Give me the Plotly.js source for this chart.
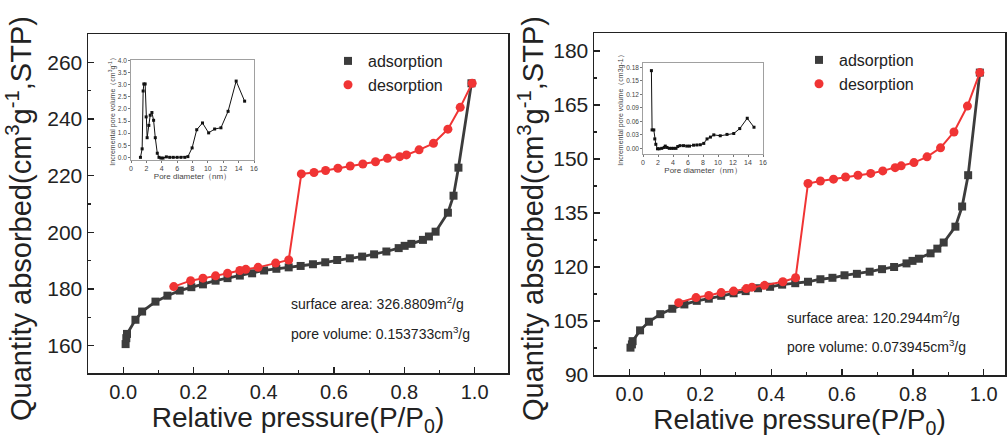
<!DOCTYPE html>
<html>
<head>
<meta charset="utf-8">
<script src="https://cdn.plot.ly/plotly-3.0.1.min.js"></script>
<style>html,body{margin:0;padding:0;background:#fff;}#chart{width:1008px;height:443px;}</style>
</head>
<body>
<div id="chart"></div>
<script>
// ---------- Left sample: isotherm ----------
const adsP1 = [0.007,0.009,0.011,0.035,0.054,0.092,0.126,0.161,0.194,0.227,0.263,0.297,0.332,0.367,0.401,0.436,0.471,0.505,0.540,0.575,0.609,0.645,0.680,0.714,0.749,0.784,0.801,0.820,0.853,0.870,0.889,0.924,0.940,0.954,0.991];
const adsQ1 = [160.5,162.6,164.1,169.1,172.0,175.5,177.6,179.4,180.6,181.6,182.9,183.8,184.7,185.5,186.5,187.1,187.6,188.1,188.7,189.4,190.2,190.8,191.4,192.2,193.2,194.4,195.2,195.9,197.3,198.5,200.2,206.9,212.9,222.8,252.6];
const desP1 = [0.993,0.959,0.924,0.883,0.842,0.806,0.787,0.752,0.718,0.682,0.646,0.611,0.576,0.543,0.507,0.471,0.434,0.384,0.349,0.332,0.297,0.263,0.227,0.192,0.144];
const desQ1 = [252.6,244.1,236.4,231.4,229.1,227.3,226.7,226.1,224.9,224.1,223.4,222.6,221.8,221.1,220.6,190.2,189.1,187.6,186.9,186.5,185.5,184.6,183.8,182.9,180.8];

// ---------- Left sample: pore size distribution (inset) ----------
const poreD1 = [1.23,1.45,1.58,1.67,1.84,1.97,2.10,2.32,2.50,2.72,2.94,3.16,3.42,3.64,3.90,4.17,4.60,5.04,5.50,6.00,6.50,7.00,7.40,7.95,8.55,9.30,10.1,10.88,11.7,12.63,13.68,14.78];
const poreV1 = [0.0,0.35,2.74,3.03,3.03,1.67,0.81,1.32,1.74,1.85,1.53,0.81,0.17,0.0,-0.03,-0.03,0.02,0.0,0.0,0.0,0.0,0.0,0.03,0.39,1.14,1.42,1.01,1.17,1.22,1.90,3.15,2.32];

// ---------- Right sample: isotherm ----------
const adsP2 = [0.003,0.007,0.009,0.030,0.055,0.087,0.121,0.155,0.190,0.224,0.259,0.294,0.328,0.363,0.397,0.431,0.468,0.504,0.539,0.573,0.607,0.642,0.678,0.713,0.747,0.782,0.799,0.817,0.850,0.869,0.887,0.920,0.939,0.956,0.989];
const adsQ2 = [97.6,98.5,99.4,102.4,104.8,106.9,108.4,109.6,110.6,111.2,112.0,112.7,113.3,114.1,114.5,115.1,115.5,115.9,116.6,117.0,117.7,118.1,118.7,119.4,120.0,121.0,121.7,122.3,123.8,125.1,126.8,131.2,136.8,145.5,174.0];
const desP2 = [0.989,0.954,0.916,0.878,0.840,0.803,0.767,0.750,0.715,0.681,0.645,0.610,0.576,0.539,0.504,0.469,0.433,0.381,0.346,0.330,0.294,0.259,0.224,0.188,0.139];
const desQ2 = [174.0,164.7,157.5,153.1,150.6,149.0,148.1,147.6,146.7,146.0,145.5,145.0,144.4,143.9,143.2,117.0,115.9,114.9,114.4,114.0,113.3,112.9,112.1,111.5,110.1];

// ---------- Right sample: pore size distribution (inset) ----------
const poreD2 = [1.12,1.21,1.44,1.57,1.71,1.93,2.16,2.50,2.83,2.97,3.20,3.50,3.80,4.10,4.40,4.63,4.94,5.40,5.84,6.20,6.74,7.19,7.64,8.10,8.54,8.99,9.44,10.3,11.2,12.1,12.9,13.9,14.8];
const poreV2 = [0.173,0.041,0.041,0.021,0.009,-0.001,-0.001,0.0,0.002,0.005,0.002,0.0,0.0,0.0,0.0,0.004,0.006,0.006,0.005,0.005,0.007,0.0075,0.008,0.011,0.021,0.025,0.030,0.028,0.031,0.033,0.044,0.067,0.047];

// ---------- Texts ----------
const seriesNames = ['adsorption','desorption'];
const xTitle = 'Relative pressure(P/P<sub>0</sub>)';
const yTitle = 'Quantity absorbed(cm<sup>3</sup>g<sup>-1</sup>,STP)';
const insetXTitle = 'Pore diameter（nm）';
const insetYTitle1 = 'Incremental pore volume（cm<sup>3</sup>g<sup>-1</sup>）';
const insetYTitle2 = 'Incremental pore volume（cm3g-1）';
const notes1 = ['surface area: 326.8809m<sup>2</sup>/g','pore volume: 0.153733cm<sup>3</sup>/g'];
const notes2 = ['surface area: 120.2944m<sup>2</sup>/g','pore volume: 0.073945cm<sup>3</sup>/g'];

const FONT = 'Liberation Sans, Arial, Helvetica, sans-serif';
const GRAY = '#3c3c3c';
const RED = '#f03434';

function isoTraces(ax, ay, ads, des, legendId){
  return [
    {x: ads[0], y: ads[1], xaxis: ax, yaxis: ay, mode: 'lines', line: {color: GRAY, width: 2.8}, showlegend: false, hoverinfo: 'skip'},
    {x: ads[0], y: ads[1], xaxis: ax, yaxis: ay, mode: 'markers', name: seriesNames[0], legend: legendId,
     marker: {symbol: 'square', size: 8, color: GRAY}},
    {x: des[0], y: des[1], xaxis: ax, yaxis: ay, mode: 'lines', line: {color: RED, width: 2}, showlegend: false, hoverinfo: 'skip'},
    {x: des[0], y: des[1], xaxis: ax, yaxis: ay, mode: 'markers', name: seriesNames[1], legend: legendId,
     marker: {symbol: 'circle', size: 9, color: RED}}
  ];
}
function insetTrace(ax, ay, d, v){
  return {x: d, y: v, xaxis: ax, yaxis: ay, mode: 'lines+markers', showlegend: false,
    line: {color: '#111', width: 1}, marker: {symbol: 'square', size: 3, color: '#111'}};
}

const data = [].concat(
  isoTraces('x', 'y', [adsP1, adsQ1], [desP1, desQ1], 'legend'),
  isoTraces('x2', 'y2', [adsP2, adsQ2], [desP2, desQ2], 'legend2'),
  [insetTrace('x3', 'y3', poreD1, poreV1), insetTrace('x4', 'y4', poreD2, poreV2)]
);

function mainX(domain, range, anchor){
  return {domain: domain, anchor: anchor, range: range, tick0: 0, dtick: 0.2, tickformat: '.1f',
    ticks: 'inside', ticklen: 6, tickwidth: 1.3, tickcolor: '#222',
    minor: {dtick: 0.1, ticks: 'inside', ticklen: 3, tickwidth: 1.2, tickcolor: '#222'},
    showline: true, mirror: true, linecolor: '#222', linewidth: 1.5,
    showgrid: false, zeroline: false,
    tickfont: {family: FONT, size: 20, color: '#222'},
    title: {text: xTitle, font: {family: FONT, size: 28, color: '#222'}, standoff: 1}};
}
function mainY(domain, range, anchor, dtick){
  return {domain: domain, anchor: anchor, range: range, tick0: 0, dtick: dtick,
    ticks: 'inside', ticklen: 6, tickwidth: 1.3, tickcolor: '#222',
    minor: {dtick: dtick/2, ticks: 'inside', ticklen: 3, tickwidth: 1.2, tickcolor: '#222'},
    showline: true, mirror: true, linecolor: '#222', linewidth: 1.5,
    showgrid: false, zeroline: false,
    tickfont: {family: FONT, size: 21, color: '#222'}};
}
function insetX(domain, anchor){
  return {domain: domain, anchor: anchor, range: [0, 16], dtick: 2, ticks: 'outside', ticklen: 2, tickwidth: 0.8, tickcolor: '#555',
    showline: true, mirror: true, linecolor: '#888', linewidth: 0.8, showgrid: false, zeroline: false,
    tickfont: {family: FONT, size: 7, color: '#444'},
    title: {text: insetXTitle, font: {family: FONT, size: 8, color: '#444'}, standoff: 1}};
}
function insetY(domain, anchor, range, dtick, fmt, title){
  return {domain: domain, anchor: anchor, range: range, tick0: 0, dtick: dtick, tickformat: fmt,
    ticks: 'outside', ticklen: 2, tickwidth: 0.8, tickcolor: '#555',
    showline: true, mirror: true, linecolor: '#888', linewidth: 0.8, showgrid: false, zeroline: false,
    tickfont: {family: FONT, size: 6.5, color: '#444'},
    title: {text: title, font: {family: FONT, size: 7, color: '#444'}, standoff: 1}};
}

const W = 1008, H = 443;
const fx = p => p / W;
const fy = p => 1 - p / H;

function noteAnn(xpx, ypx, text){
  return {xref: 'paper', yref: 'paper', x: fx(xpx), y: fy(ypx), xanchor: 'left', yanchor: 'middle',
    text: text, showarrow: false, font: {family: FONT, size: 14, color: '#222'}};
}
function yTitleAnn(xpx, ypx){
  return {xref: 'paper', yref: 'paper', x: fx(xpx), y: fy(ypx), xanchor: 'center', yanchor: 'middle',
    text: yTitle, textangle: -90, showarrow: false, font: {family: FONT, size: 29, color: '#222'}};
}

const layout = {
  width: W, height: H,
  margin: {l: 0, r: 0, t: 0, b: 0},
  paper_bgcolor: '#fff', plot_bgcolor: 'rgba(0,0,0,0)',
  font: {family: FONT, color: '#222'},
  xaxis: mainX([fx(88), fx(508)], [-0.1, 1.095], 'y'),
  yaxis: mainY([fy(373), fy(34)], [150.3, 270], 'x', 20),
  xaxis2: mainX([fx(594), fx(1005)], [-0.1, 1.06], 'y2'),
  yaxis2: mainY([fy(375), fy(33)], [90, 185], 'x2', 15),
  xaxis3: insetX([fx(131), fx(254)], 'y3'),
  yaxis3: insetY([fy(160), fy(60)], 'x3', [-0.11, 4.02], 0.5, '.1f', insetYTitle1),
  xaxis4: insetX([fx(643), fx(763)], 'y4'),
  yaxis4: insetY([fy(154), fy(63)], 'x4', [-0.0126, 0.19], 0.03, '.2f', insetYTitle2),
  legend: {x: fx(328), y: fy(44), xanchor: 'left', yanchor: 'top', bgcolor: 'rgba(0,0,0,0)',
    font: {family: FONT, size: 16, color: '#222'}, tracegroupgap: 0, itemwidth: 30},
  legend2: {x: fx(799), y: fy(43), xanchor: 'left', yanchor: 'top', bgcolor: 'rgba(0,0,0,0)',
    font: {family: FONT, size: 16, color: '#222'}, tracegroupgap: 0, itemwidth: 30},
  annotations: [
    yTitleAnn(19, 219),
    yTitleAnn(531, 219),
    noteAnn(289, 303, notes1[0]),
    noteAnn(289, 333, notes1[1]),
    noteAnn(785, 317, notes2[0]),
    noteAnn(785, 346, notes2[1])
  ]
};

Plotly.newPlot('chart', data, layout, {displayModeBar: false, staticPlot: true});
</script>
</body>
</html>
